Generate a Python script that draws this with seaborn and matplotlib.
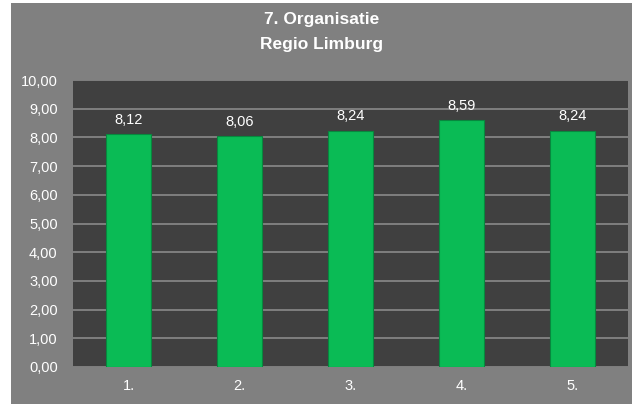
import matplotlib
matplotlib.use('Agg')
import pandas as pd
import seaborn as sns
import matplotlib.pyplot as plt
from matplotlib.patches import Rectangle

# chart data
categories = ['1.', '2.', '3.', '4.', '5.']
scores = [8.12, 8.06, 8.24, 8.59, 8.24]
yticks = [0, 1, 2, 3, 4, 5, 6, 7, 8, 9, 10]

df = pd.DataFrame({'Vraag': categories, 'Score': scores})

sns.set_style('dark')
plt.rcParams['font.family'] = ['Liberation Sans', 'DejaVu Sans']

fig = plt.figure(figsize=(6.32, 4.04), dpi=100)
fig.patch.set_facecolor('white')
# grey chart frame (small white margin on the top/left like the original)
fig.patches.append(Rectangle((11 / 632, 0), 1 - 11 / 632, 1 - 3 / 404,
                             transform=fig.transFigure, facecolor='#808080',
                             edgecolor='none', zorder=-10))

ax = fig.add_axes([73 / 632, (404 - 367) / 404, (628 - 73) / 632, (367 - 80) / 404])
ax.set_facecolor('#404040')

sns.barplot(x='Vraag', y='Score', data=df, color='#0abb55', width=0.4,
            saturation=1, edgecolor='#07883e', linewidth=0.8, ax=ax, zorder=3)

for i, v in enumerate(scores):
    ax.text(i, v + 0.25, f'{v:.2f}'.replace('.', ','), ha='center', va='bottom',
            color='white', fontsize=10.5)

ax.set_ylim(0, 10)
ax.set_yticks(yticks)
ax.set_yticklabels([f'{t:.2f}'.replace('.', ',') for t in yticks])
ax.yaxis.grid(True, color='#8a8a8a', linewidth=1.2, zorder=0)
ax.xaxis.grid(False)
ax.set_axisbelow(True)
ax.tick_params(axis='both', colors='white', labelsize=10.5, length=0)
ax.tick_params(axis='y', pad=11)
ax.tick_params(axis='x', pad=9)
ax.set_xlabel('')
ax.set_ylabel('')
for s in ax.spines.values():
    s.set_visible(False)

fig.text(0.5 + 6 / 632, 1 - 12 / 404, '7. Organisatie\nRegio Limburg', ha='center',
         va='top', color='white', fontsize=12.5, fontweight='bold', linespacing=1.85)

fig.savefig('out.png', dpi=100, facecolor=fig.get_facecolor())
